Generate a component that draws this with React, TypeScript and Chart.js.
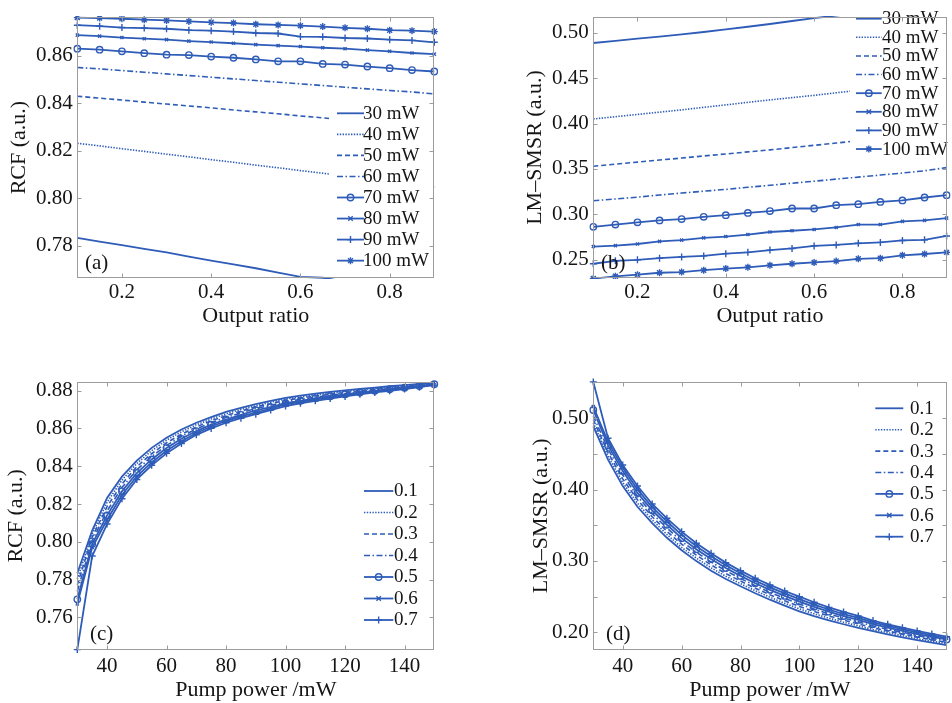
import React, { useEffect, useRef } from 'react';
import { Chart, registerables } from 'chart.js';

Chart.register(...registerables);

const BLUE = 'rgb(46, 92, 184)';
const FRAME = '#9c9c9c';
const TEXT = '#151515';
const FONT = '"Liberation Serif", "Times New Roman", serif';

// ---------- data ----------
const OUTPUT_RATIO = [0.1, 0.15, 0.2, 0.25, 0.3, 0.35, 0.4, 0.45, 0.5, 0.55, 0.6, 0.65, 0.7, 0.75, 0.8, 0.85, 0.9];
const PUMP_POWER = [30, 35, 40, 45, 50, 55, 60, 65, 70, 75, 80, 85, 90, 95, 100, 105, 110, 115, 120, 125, 130, 135, 140, 145, 150];
const POWER_LABELS = ['30 mW', '40 mW', '50 mW', '60 mW', '70 mW', '80 mW', '90 mW', '100 mW'];
const RATIO_LABELS = ['0.1', '0.2', '0.3', '0.4', '0.5', '0.6', '0.7'];

// (a) RCF vs output ratio
const RCF_30 = [0.7834, 0.7818, 0.7803, 0.7788, 0.7773, 0.7755, 0.7738, 0.7722, 0.7706, 0.7688, 0.7670, 0.7666, 0.7650, 0.7635, 0.7620, 0.7605, 0.7590];
const RCF_40 = [0.8232, 0.8221, 0.8209, 0.8198, 0.8186, 0.8175, 0.8163, 0.8152, 0.8140, 0.8129, 0.8117, 0.8106, 0.8094, 0.8083, 0.8071, 0.8060, 0.8048];
const RCF_50 = [0.8430, 0.8422, 0.8414, 0.8405, 0.8397, 0.8389, 0.8381, 0.8372, 0.8364, 0.8356, 0.8347, 0.8339, 0.8330, 0.8322, 0.8314, 0.8305, 0.8297];
const RCF_60 = [0.8551, 0.8545, 0.8538, 0.8531, 0.8524, 0.8517, 0.8510, 0.8503, 0.8496, 0.8489, 0.8482, 0.8475, 0.8468, 0.8461, 0.8454, 0.8448, 0.8440];
const RCF_70 = [0.8630, 0.8626, 0.8619, 0.8611, 0.8605, 0.8603, 0.8597, 0.8592, 0.8585, 0.8577, 0.8577, 0.8566, 0.8563, 0.8555, 0.8548, 0.8540, 0.8534];
const RCF_80 = [0.8687, 0.8683, 0.8677, 0.8672, 0.8668, 0.8662, 0.8658, 0.8653, 0.8647, 0.8643, 0.8639, 0.8634, 0.8630, 0.8624, 0.8619, 0.8612, 0.8607];
const RCF_90 = [0.8729, 0.8725, 0.8719, 0.8717, 0.8714, 0.8708, 0.8706, 0.8702, 0.8696, 0.8694, 0.8681, 0.8680, 0.8675, 0.8673, 0.8668, 0.8665, 0.8657];
const RCF_100 = [0.8761, 0.8759, 0.8756, 0.8752, 0.8749, 0.8745, 0.8741, 0.8738, 0.8733, 0.8730, 0.8727, 0.8723, 0.8718, 0.8714, 0.8708, 0.8706, 0.8702];

// (b) LM-SMSR vs output ratio
const SMSR_30 = [0.4886, 0.4910, 0.4935, 0.4957, 0.4980, 0.5007, 0.5035, 0.5065, 0.5095, 0.5128, 0.5160, 0.5188, 0.5215, 0.5243, 0.5270, 0.5300, 0.5330];
const SMSR_40 = [0.4050, 0.4075, 0.4100, 0.4125, 0.4150, 0.4178, 0.4205, 0.4233, 0.4260, 0.4285, 0.4310, 0.4338, 0.4365, 0.4393, 0.4420, 0.4450, 0.4480];
const SMSR_50 = [0.3530, 0.3553, 0.3575, 0.3598, 0.3620, 0.3643, 0.3665, 0.3688, 0.3710, 0.3735, 0.3760, 0.3785, 0.3810, 0.3835, 0.3860, 0.3885, 0.3910];
const SMSR_60 = [0.3150, 0.3170, 0.3190, 0.3213, 0.3235, 0.3255, 0.3275, 0.3298, 0.3320, 0.3343, 0.3365, 0.3388, 0.3410, 0.3433, 0.3455, 0.3480, 0.3515];
const SMSR_70 = [0.2863, 0.2888, 0.2913, 0.2934, 0.2948, 0.2973, 0.2991, 0.3016, 0.3037, 0.3065, 0.3065, 0.3101, 0.3112, 0.3137, 0.3154, 0.3186, 0.3211];
const SMSR_80 = [0.2646, 0.2656, 0.2674, 0.2703, 0.2717, 0.2742, 0.2756, 0.2778, 0.2806, 0.2820, 0.2834, 0.2856, 0.2888, 0.2888, 0.2923, 0.2934, 0.2959];
const SMSR_90 = [0.2457, 0.2489, 0.2500, 0.2518, 0.2532, 0.2543, 0.2568, 0.2582, 0.2607, 0.2625, 0.2653, 0.2664, 0.2682, 0.2692, 0.2713, 0.2720, 0.2763];
const SMSR_100 = [0.2294, 0.2319, 0.2337, 0.2358, 0.2365, 0.2386, 0.2404, 0.2418, 0.2440, 0.2457, 0.2471, 0.2486, 0.2511, 0.2518, 0.2550, 0.2564, 0.2582];

// (c) RCF vs pump power
const RCF_R01 = [0.7834, 0.8060, 0.8232, 0.8345, 0.8430, 0.8497, 0.8551, 0.8594, 0.8630, 0.8660, 0.8687, 0.8709, 0.8729, 0.8746, 0.8761, 0.8773, 0.8784, 0.8793, 0.8801, 0.8809, 0.8816, 0.8823, 0.8829, 0.8836, 0.8843];
const RCF_R02 = [0.7803, 0.8042, 0.8209, 0.8326, 0.8414, 0.8482, 0.8538, 0.8582, 0.8619, 0.8650, 0.8677, 0.8700, 0.8719, 0.8738, 0.8756, 0.8766, 0.8778, 0.8787, 0.8796, 0.8804, 0.8812, 0.8819, 0.8825, 0.8833, 0.8841];
const RCF_R03 = [0.7773, 0.8024, 0.8186, 0.8306, 0.8397, 0.8466, 0.8524, 0.8569, 0.8608, 0.8640, 0.8668, 0.8691, 0.8714, 0.8730, 0.8749, 0.8760, 0.8771, 0.8781, 0.8790, 0.8799, 0.8807, 0.8815, 0.8822, 0.8830, 0.8838];
const RCF_R04 = [0.7738, 0.8006, 0.8163, 0.8287, 0.8381, 0.8451, 0.8510, 0.8557, 0.8597, 0.8630, 0.8658, 0.8682, 0.8706, 0.8722, 0.8741, 0.8753, 0.8765, 0.8776, 0.8785, 0.8795, 0.8803, 0.8811, 0.8818, 0.8827, 0.8836];
const RCF_R05 = [0.7696, 0.7988, 0.8140, 0.8267, 0.8364, 0.8436, 0.8496, 0.8545, 0.8586, 0.8620, 0.8647, 0.8672, 0.8696, 0.8713, 0.8733, 0.8746, 0.8759, 0.8770, 0.8780, 0.8790, 0.8799, 0.8807, 0.8815, 0.8824, 0.8834];
const RCF_R06 = [0.7672, 0.7970, 0.8117, 0.8248, 0.8347, 0.8420, 0.8482, 0.8532, 0.8576, 0.8610, 0.8639, 0.8663, 0.8684, 0.8705, 0.8727, 0.8740, 0.8752, 0.8764, 0.8774, 0.8785, 0.8794, 0.8803, 0.8811, 0.8821, 0.8831];
const RCF_R07 = [0.7430, 0.7925, 0.8094, 0.8228, 0.8330, 0.8405, 0.8468, 0.8520, 0.8566, 0.8600, 0.8630, 0.8654, 0.8675, 0.8697, 0.8718, 0.8733, 0.8746, 0.8758, 0.8769, 0.8780, 0.8790, 0.8799, 0.8808, 0.8818, 0.8829];

// (d) LM-SMSR vs pump power
const SMSR_R01 = [0.4886, 0.4420, 0.4050, 0.3760, 0.3530, 0.3325, 0.3150, 0.2998, 0.2863, 0.2748, 0.2646, 0.2548, 0.2457, 0.2373, 0.2294, 0.2228, 0.2168, 0.2113, 0.2062, 0.2015, 0.1971, 0.1930, 0.1891, 0.1855, 0.1821];
const SMSR_R02 = [0.4936, 0.4470, 0.4100, 0.3809, 0.3575, 0.3371, 0.3190, 0.3040, 0.2904, 0.2786, 0.2682, 0.2583, 0.2492, 0.2407, 0.2328, 0.2260, 0.2198, 0.2142, 0.2090, 0.2040, 0.1995, 0.1953, 0.1912, 0.1875, 0.1841];
const SMSR_R03 = [0.4980, 0.4520, 0.4150, 0.3857, 0.3620, 0.3416, 0.3235, 0.3081, 0.2945, 0.2824, 0.2719, 0.2618, 0.2526, 0.2442, 0.2363, 0.2292, 0.2229, 0.2170, 0.2118, 0.2065, 0.2018, 0.1975, 0.1934, 0.1896, 0.1860];
const SMSR_R04 = [0.5035, 0.4570, 0.4205, 0.3906, 0.3665, 0.3462, 0.3275, 0.3123, 0.2985, 0.2863, 0.2755, 0.2653, 0.2561, 0.2476, 0.2397, 0.2325, 0.2259, 0.2199, 0.2146, 0.2090, 0.2042, 0.1998, 0.1955, 0.1916, 0.1880];
const SMSR_R05 = [0.5116, 0.4620, 0.4260, 0.3954, 0.3710, 0.3508, 0.3320, 0.3165, 0.3026, 0.2901, 0.2791, 0.2687, 0.2595, 0.2510, 0.2431, 0.2357, 0.2289, 0.2228, 0.2173, 0.2114, 0.2065, 0.2020, 0.1976, 0.1936, 0.1900];
const SMSR_R06 = [0.5165, 0.4670, 0.4305, 0.4003, 0.3755, 0.3553, 0.3365, 0.3206, 0.3066, 0.2939, 0.2828, 0.2722, 0.2630, 0.2545, 0.2466, 0.2389, 0.2320, 0.2256, 0.2201, 0.2139, 0.2089, 0.2043, 0.1998, 0.1957, 0.1919];
const SMSR_R07 = [0.5510, 0.4720, 0.4346, 0.4051, 0.3799, 0.3598, 0.3411, 0.3248, 0.3107, 0.2977, 0.2864, 0.2757, 0.2664, 0.2579, 0.2500, 0.2421, 0.2350, 0.2285, 0.2229, 0.2164, 0.2112, 0.2065, 0.2019, 0.1977, 0.1939];

// ticks
const RATIO_TICKS = [0.2, 0.4, 0.6, 0.8];
const POWER_TICKS = [40, 60, 80, 100, 120, 140];
const RCF_A_TICKS = [0.78, 0.8, 0.82, 0.84, 0.86];
const SMSR_B_TICKS = [0.25, 0.3, 0.35, 0.4, 0.45, 0.5];
const RCF_C_TICKS = [0.76, 0.78, 0.8, 0.82, 0.84, 0.86, 0.88];
const SMSR_D_TICKS = [0.2, 0.25, 0.3, 0.35, 0.4, 0.45, 0.5];
const SMSR_D_LABELED = [0.2, 0.3, 0.4, 0.5];

// ---------- styles ----------
type Style = { dash: number[]; point: string | false; r: number; w: number };
const STYLES: Style[] = [
  { dash: [], point: false, r: 0, w: 1.8 },
  { dash: [1.4, 1.4], point: false, r: 0, w: 1.6 },
  { dash: [5, 3], point: false, r: 0, w: 1.6 },
  { dash: [6, 2.5, 1.5, 2.5], point: false, r: 0, w: 1.6 },
  { dash: [], point: 'circle', r: 3.2, w: 1.8 },
  { dash: [], point: 'crossRot', r: 2.2, w: 1.8 },
  { dash: [], point: 'cross', r: 3.5, w: 1.8 },
  { dash: [], point: 'star', r: 3.5, w: 1.8 },
];

function makeDatasets(xs: number[], series: number[][], labels: string[], clip: any) {
  return series.map((ys, i) => {
    const st = STYLES[i];
    return {
      label: labels[i],
      data: xs.map((x, j) => ({ x, y: ys[j] })),
      borderColor: BLUE,
      backgroundColor: BLUE,
      borderWidth: st.w,
      borderDash: st.dash,
      pointStyle: st.point || 'circle',
      pointRadius: st.point ? st.r : 0,
      pointBorderColor: BLUE,
      pointBackgroundColor: 'rgba(255,255,255,0)',
      pointBorderWidth: 1.4,
      tension: 0,
      fill: false,
      clip,
    };
  });
}

function drawMarker(ctx: CanvasRenderingContext2D, style: string, x: number, y: number, r: number, w: number) {
  ctx.save();
  ctx.setLineDash([]);
  ctx.lineWidth = w;
  ctx.strokeStyle = BLUE;
  ctx.beginPath();
  if (style === 'circle') {
    ctx.arc(x, y, r, 0, Math.PI * 2);
  } else {
    const d = r * Math.SQRT1_2;
    if (style === 'cross' || style === 'star') {
      ctx.moveTo(x - r, y); ctx.lineTo(x + r, y);
      ctx.moveTo(x, y - r); ctx.lineTo(x, y + r);
    }
    if (style === 'crossRot' || style === 'star') {
      const q = style === 'star' ? d : r;
      ctx.moveTo(x - q, y - q); ctx.lineTo(x + q, y + q);
      ctx.moveTo(x - q, y + q); ctx.lineTo(x + q, y - q);
    }
  }
  ctx.stroke();
  ctx.restore();
}

type LegendCfg = { x1: number; x2: number; tx: number; y0: number; dy: number; size: number; bg: number[] | null };

function legendPlugin(cfg: LegendCfg) {
  return {
    id: 'boxLegend',
    afterDatasetsDraw(chart: any) {
      const ctx: CanvasRenderingContext2D = chart.ctx;
      ctx.save();
      if (cfg.bg) {
        ctx.fillStyle = '#ffffff';
        ctx.fillRect(cfg.bg[0], cfg.bg[1], cfg.bg[2], cfg.bg[3]);
      }
      chart.data.datasets.forEach((ds: any, i: number) => {
        const y = cfg.y0 + i * cfg.dy;
        ctx.strokeStyle = ds.borderColor;
        ctx.lineWidth = ds.borderWidth;
        ctx.setLineDash(ds.borderDash || []);
        ctx.beginPath();
        ctx.moveTo(cfg.x1, y);
        ctx.lineTo(cfg.x2, y);
        ctx.stroke();
        ctx.setLineDash([]);
        if (ds.pointRadius > 0) drawMarker(ctx, ds.pointStyle, (cfg.x1 + cfg.x2) / 2, y, ds.pointRadius, ds.pointBorderWidth);
      });
      ctx.fillStyle = TEXT;
      ctx.font = `${cfg.size}px ${FONT}`;
      ctx.textBaseline = 'middle';
      ctx.textAlign = 'left';
      chart.data.datasets.forEach((ds: any, i: number) => {
        ctx.fillText(ds.label, cfg.tx, cfg.y0 + i * cfg.dy + 0.5);
      });
      ctx.restore();
    },
  };
}

function framePlugin(label: string, dx: number, dy: number) {
  return {
    id: 'frameBox',
    afterDraw(chart: any) {
      const ctx: CanvasRenderingContext2D = chart.ctx;
      const a = chart.chartArea;
      const xs = chart.scales.x;
      const ys = chart.scales.y;
      ctx.save();
      ctx.strokeStyle = FRAME;
      ctx.lineWidth = 1;
      ctx.setLineDash([]);
      const L = Math.round(a.left) + 0.5, R = Math.round(a.right) - 0.5;
      const T = Math.round(a.top) + 0.5, B = Math.round(a.bottom) - 0.5;
      ctx.strokeRect(L, T, R - L, B - T);
      ctx.beginPath();
      const tl = 4;
      xs.ticks.forEach((t: any) => {
        const p = Math.round(xs.getPixelForValue(t.value)) + 0.5;
        ctx.moveTo(p, B); ctx.lineTo(p, B - tl);
        ctx.moveTo(p, T); ctx.lineTo(p, T + tl);
      });
      ys.ticks.forEach((t: any) => {
        const p = Math.round(ys.getPixelForValue(t.value)) + 0.5;
        ctx.moveTo(L, p); ctx.lineTo(L + tl, p);
        ctx.moveTo(R, p); ctx.lineTo(R - tl, p);
      });
      ctx.stroke();
      ctx.fillStyle = TEXT;
      ctx.font = `21px ${FONT}`;
      ctx.textAlign = 'left';
      ctx.textBaseline = 'middle';
      ctx.fillText(label, a.left + dx, a.bottom - dy);
      ctx.restore();
    },
  };
}

type PanelCfg = {
  w: number; h: number; left: number; top: number;
  xs: number[]; series: number[][]; labels: string[];
  xMin: number; xMax: number; yMin: number; yMax: number;
  xTicks: number[]; yTicks: number[];
  xFmt: (v: number) => string; yFmt: (v: number) => string;
  xTitle: string; yTitle: string;
  pad: { left: number; right: number; top: number; bottom: number };
  yW: number; xH: number; xTickPad: number;
  legend: LegendCfg; tag: string; tagDx: number; tagDy: number; clip: any;
};

function Panel({ cfg }: { cfg: PanelCfg }) {
  const ref = useRef<HTMLCanvasElement | null>(null);
  useEffect(() => {
    if (!ref.current) return;
    const chart = new Chart(ref.current, {
      type: 'line',
      data: { datasets: makeDatasets(cfg.xs, cfg.series, cfg.labels, cfg.clip) as any },
      options: {
        animation: false,
        responsive: false,
        maintainAspectRatio: false,
        layout: { padding: cfg.pad },
        plugins: { legend: { display: false }, tooltip: { enabled: false } },
        events: [],
        scales: {
          x: {
            type: 'linear',
            min: cfg.xMin,
            max: cfg.xMax,
            grid: { display: false, drawTicks: false, tickLength: 0 },
            border: { display: false },
            afterBuildTicks: (s: any) => { s.ticks = cfg.xTicks.map((v) => ({ value: v })); },
            afterFit: (s: any) => { s.height = cfg.xH; },
            ticks: {
              autoSkip: false,
              maxRotation: 0,
              padding: cfg.xTickPad,
              color: TEXT,
              font: { family: FONT, size: 21 },
              callback: (v: any) => cfg.xFmt(Number(v)),
            },
            title: { display: true, text: cfg.xTitle, color: TEXT, padding: 0, font: { family: FONT, size: 22 } },
          },
          y: {
            type: 'linear',
            min: cfg.yMin,
            max: cfg.yMax,
            grid: { display: false, drawTicks: false, tickLength: 0 },
            border: { display: false },
            afterBuildTicks: (s: any) => { s.ticks = cfg.yTicks.map((v) => ({ value: v })); },
            afterFit: (s: any) => { s.width = cfg.yW; },
            ticks: {
              autoSkip: false,
              padding: 4.5,
              color: TEXT,
              font: { family: FONT, size: 21 },
              callback: (v: any) => cfg.yFmt(Number(v)),
            },
            title: { display: true, text: cfg.yTitle, color: TEXT, padding: 0, font: { family: FONT, size: 22 } },
          },
        },
      } as any,
      plugins: [legendPlugin(cfg.legend), framePlugin(cfg.tag, cfg.tagDx, cfg.tagDy)] as any,
    });
    return () => chart.destroy();
  }, [cfg]);
  return (
    <canvas
      ref={ref}
      width={cfg.w}
      height={cfg.h}
      style={{ position: 'absolute', left: cfg.left, top: cfg.top, width: cfg.w, height: cfg.h }}
    />
  );
}

const fmt1 = (v: number) => v.toFixed(1);
const fmt2 = (v: number) => v.toFixed(2);
const fmt0 = (v: number) => String(Math.round(v));
const fmtD = (v: number) => (SMSR_D_LABELED.some((t) => Math.abs(t - v) < 1e-6) ? v.toFixed(2) : '');

const clipAB = { left: 4, right: 4, top: 1, bottom: 1 };
const clipCD = { left: 5, right: 5, top: 5, bottom: 5 };

const PANELS: PanelCfg[] = [
  {
    w: 476, h: 340, left: 0, top: 0,
    xs: OUTPUT_RATIO,
    series: [RCF_30, RCF_40, RCF_50, RCF_60, RCF_70, RCF_80, RCF_90, RCF_100],
    labels: POWER_LABELS,
    xMin: 0.1, xMax: 0.9, yMin: 0.7665, yMax: 0.8763,
    xTicks: RATIO_TICKS, yTicks: RCF_A_TICKS, xFmt: fmt1, yFmt: fmt2,
    xTitle: 'Output ratio', yTitle: 'RCF (a.u.)',
    pad: { left: 5.8, right: 41.7, top: 9, bottom: 10.8 },
    yW: 71.5, xH: 51.2, xTickPad: 2,
    legend: { x1: 337, x2: 364, tx: 363, y0: 113.3, dy: 21.05, size: 19, bg: [329, 100, 105.3, 178] },
    tag: '(a)', tagDx: 7.7, tagDy: 15, clip: clipAB,
  },
  {
    w: 476, h: 340, left: 476, top: 0,
    xs: OUTPUT_RATIO,
    series: [SMSR_30, SMSR_40, SMSR_50, SMSR_60, SMSR_70, SMSR_80, SMSR_90, SMSR_100],
    labels: POWER_LABELS,
    xMin: 0.1, xMax: 0.9, yMin: 0.23, yMax: 0.5171,
    xTicks: RATIO_TICKS, yTicks: SMSR_B_TICKS, xFmt: fmt1, yFmt: fmt2,
    xTitle: 'Output ratio', yTitle: 'LM\u2013SMSR (a.u.)',
    pad: { left: 45.8, right: 2, top: 9, bottom: 10.8 },
    yW: 71.5, xH: 51.2, xTickPad: 2,
    legend: { x1: 380, x2: 405.7, tx: 406, y0: 18.7, dy: 18.62, size: 19, bg: [374, 9.5, 102, 151] },
    tag: '(b)', tagDx: 7.7, tagDy: 14.7, clip: clipAB,
  },
  {
    w: 476, h: 363, left: 0, top: 340,
    xs: PUMP_POWER,
    series: [RCF_R01, RCF_R02, RCF_R03, RCF_R04, RCF_R05, RCF_R06, RCF_R07],
    labels: RATIO_LABELS,
    xMin: 30, xMax: 150, yMin: 0.7428, yMax: 0.8847,
    xTicks: POWER_TICKS, yTicks: RCF_C_TICKS, xFmt: fmt0, yFmt: fmt2,
    xTitle: 'Pump power /mW', yTitle: 'RCF (a.u.)',
    pad: { left: 3.5, right: 41.7, top: 41.7, bottom: 0 },
    yW: 73.8, xH: 53, xTickPad: 4,
    legend: { x1: 364, x2: 393.3, tx: 394, y0: 151, dy: 21.5, size: 19, bg: null },
    tag: '(c)', tagDx: 12.7, tagDy: 16, clip: clipCD,
  },
  {
    w: 476, h: 363, left: 476, top: 340,
    xs: PUMP_POWER,
    series: [SMSR_R01, SMSR_R02, SMSR_R03, SMSR_R04, SMSR_R05, SMSR_R06, SMSR_R07],
    labels: RATIO_LABELS,
    xMin: 30, xMax: 150, yMin: 0.1752, yMax: 0.5513,
    xTicks: POWER_TICKS, yTicks: SMSR_D_TICKS, xFmt: fmt0, yFmt: fmtD,
    xTitle: 'Pump power /mW', yTitle: 'LM\u2013SMSR (a.u.)',
    pad: { left: 51.8, right: 2, top: 41.7, bottom: 0 },
    yW: 65.5, xH: 53, xTickPad: 4,
    legend: { x1: 399.3, x2: 427.3, tx: 434, y0: 68.3, dy: 21.4, size: 19, bg: null },
    tag: '(d)', tagDx: 12.7, tagDy: 16, clip: clipCD,
  },
];

export default function App() {
  return (
    <div style={{ position: 'fixed', left: 0, top: 0, width: 952, height: 703, background: '#ffffff', overflow: 'hidden' }}>
      {PANELS.map((p, i) => (
        <Panel key={i} cfg={p} />
      ))}
    </div>
  );
}
